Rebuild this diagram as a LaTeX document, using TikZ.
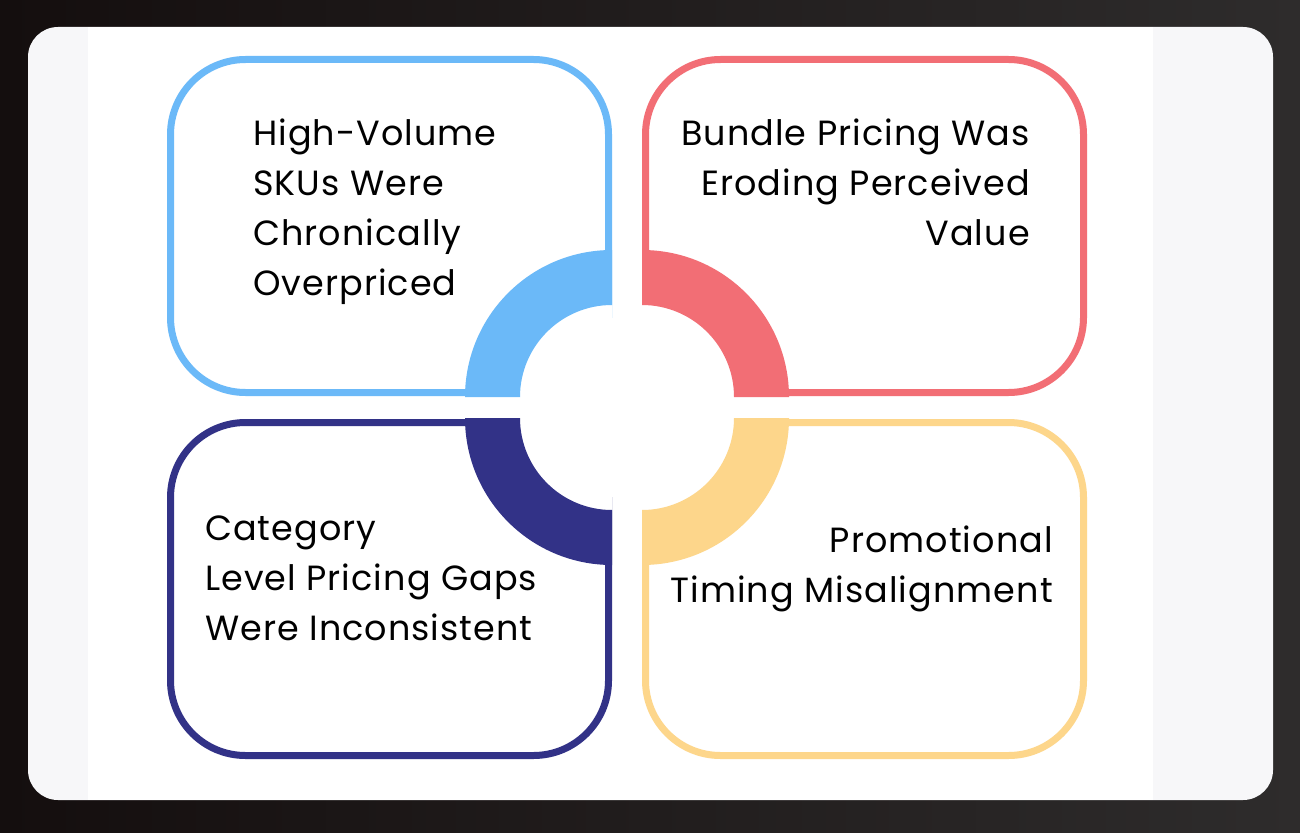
\documentclass[tikz,border=0pt]{standalone}
\usepackage{fontspec}
\setmainfont{Poppins}[LetterSpace=3]
\usepackage{tikz}
\usetikzlibrary{positioning,calc}
\definecolor{skyb}{HTML}{6BB9F8}
\definecolor{coral}{HTML}{F26E75}
\definecolor{navy}{HTML}{323287}
\definecolor{sand}{HTML}{FDD68B}
\definecolor{cardgray}{HTML}{F7F7F9}
\definecolor{bgleft}{HTML}{140E0E}
\definecolor{bgright}{HTML}{2E2C2C}

\begin{document}
\begin{tikzpicture}[x=1pt,y=-1pt,
boxs/.style={rectangle,rounded corners=75,draw,line width=7,fill=white,minimum width=438,minimum height=333,inner sep=0},
texts/.style={font=\fontsize{35}{50}\selectfont,inner sep=0,text=black}]
\useasboundingbox (0,0) rectangle (1300,832);
\shade [left color=bgleft,right color=bgright] (0,0) rectangle (1300,832);
\fill [cardgray,rounded corners=30] (28,27) rectangle (1273,800);
\fill [white] (88,27) rectangle (1153,800);

\node [boxs,draw=skyb] (box-hv) at (389.5,226) {};
\node [boxs,draw=coral] (box-bp) at (864.5,226) {};
\node [boxs,draw=navy] (box-cl) at (389.5,589) {};
\node [boxs,draw=sand] (box-pt) at (864.5,589) {};

\coordinate (c-hv) at (612,397);
\coordinate (c-bp) at (642,397);
\coordinate (c-cl) at (612,418);
\coordinate (c-pt) at (642,418);
\foreach \cc/\aa/\col in {c-hv/180/skyb,c-bp/270/coral,c-cl/90/navy,c-pt/0/sand}
{\fill [white] (\cc) -- ++(\aa:93) arc[start angle=\aa,delta angle=90,radius=93] -- cycle;
 \fill [\col] (\cc) ++(\aa:147) arc[start angle=\aa,delta angle=90,radius=147]
   -- ($(\cc)+(\aa+90:92)$) arc[start angle=\aa+90,delta angle=-90,radius=92] -- cycle;}

\node [texts,anchor=base west,align=left] (txt-hv) at (253,295) {High-Volume\\SKUs Were\\Chronically\\Overpriced};
\node [texts,anchor=base east,align=right] (txt-bp) at (1030,245) {Bundle Pricing Was\\Eroding Perceived\\Value};
\node [texts,anchor=base west,align=left] (txt-cl) at (205,640) {Category\\Level Pricing Gaps\\Were Inconsistent};
\node [texts,anchor=base east,align=right] (txt-pt) at (1053,602) {Promotional\\Timing Misalignment};
\end{tikzpicture}
\end{document}
